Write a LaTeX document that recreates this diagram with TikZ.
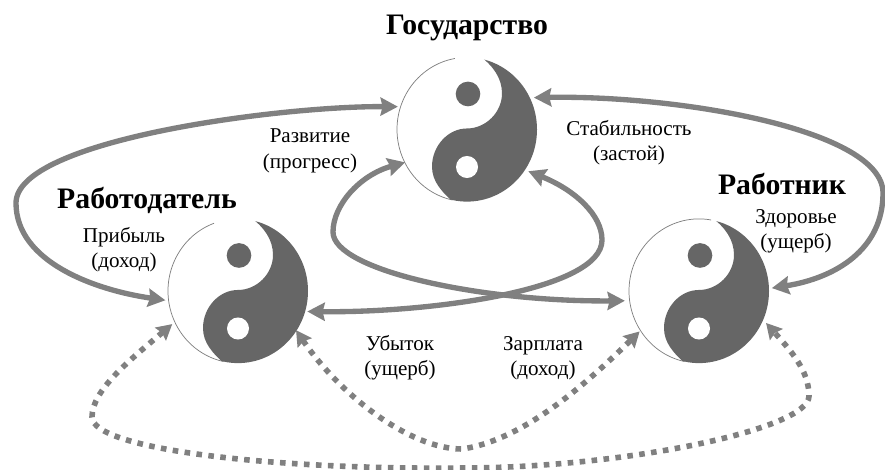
\documentclass[tikz,border=0pt]{standalone}
\usepackage{fontspec}
\setmainfont{Liberation Serif}
\usetikzlibrary{arrows.meta}
\definecolor{yydark}{HTML}{666666}
\definecolor{linkgray}{HTML}{808080}
\tikzset{
  x=.75pt,y=-.75pt,
  yynode/.style={circle,minimum size=105pt,inner sep=0pt,outer sep=0pt,fill=white},
  solidlink/.style={draw=linkgray,line width=4pt,{Stealth[length=13pt,width=13.5pt,inset=1.5pt]}-{Stealth[length=13pt,width=13.5pt,inset=1.5pt]}},
  dashlink/.style={draw=linkgray,line width=4.2pt,dash pattern=on 4.2pt off 4.8pt,{Stealth[length=11.5pt,width=12.5pt,inset=1.5pt]}-{Stealth[length=11.5pt,width=12.5pt,inset=1.5pt]}},
  title/.style={font=\fontsize{22.3}{26}\selectfont\bfseries,inner sep=0pt},
  caption/.style={font=\fontsize{15.8}{19}\selectfont,align=center,inner sep=0pt},
}
\newcommand{\yinyang}[3]{%
  \begin{scope}[shift={(#1)},x=.75pt,y=.7725pt]
    \draw[linkgray,line width=.55pt] (#2:70) arc[start angle=#2,end angle=#3,radius=70];
    \begin{scope}
      \clip (0,0) circle (70);
      \fill[yydark] (0,1) .. controls (19,1) and (35,17) .. (35,35)
        .. controls (35,50) and (26,62) .. (12,72) -- (80,80) -- (80,-80) -- (-12,-72)
        .. controls (-26,-60) and (-35,-50) .. (-35,-36)
        .. controls (-35,-16) and (-19,1) .. (0,1) -- cycle;
    \end{scope}
    \fill[yydark] (1,34.5) ellipse (12.3 and 12);
    \fill[white] (0,-36.4) ellipse (11 and 10.7);
  \end{scope}}
\begin{document}
\begin{tikzpicture}
\useasboundingbox (0,0) rectangle (885,470);
\node[yynode] (state) at (467,129.5) {};
\node[yynode] (employer) at (238,291) {};
\node[yynode] (worker) at (699,291) {};
\yinyang{state}{100}{258}
\yinyang{employer}{110}{258}
\yinyang{worker}{80}{258}

\node[title] (tstate) at (467,28) {Государство};
\node[title] (temployer) at (147,200) {Работодатель};
\node[title] (tworker) at (782,184) {Работник};
\node[caption] (c1) at (310,151) {Развитие\\(прогресс)};
\node[caption] (c2) at (124,250) {Прибыль\\(доход)};
\node[caption] (c3) at (629,143) {Стабильность\\(застой)};
\node[caption] (c4) at (796,231) {Здоровье\\(ущерб)};
\node[caption] (c5) at (400,358) {Убыток\\(ущерб)};
\node[caption] (c6) at (543,358) {Зарплата\\(доход)};

\draw[solidlink,shorten <=2.5pt,shorten >=2.2pt] (employer.188.6) .. controls (95,290) and (16,262) .. (16,203)
  .. controls (16,140) and (280,106) .. (state.161);
\draw[solidlink,shorten <=2.2pt,shorten >=3.4pt] (worker.2.4) .. controls (835,278) and (883,250) .. (883,193)
  .. controls (883,130) and (680,95) .. (state.27.6);
\draw[solidlink,shorten >=3.6pt] (state.208.4) .. controls (360,175) and (333,205) .. (333,232)
  .. controls (333,270) and (480,302) .. (worker.188.5);
\draw[solidlink,shorten <=3.2pt,shorten >=1.8pt] (state.-35) .. controls (575,190) and (602,215) .. (602,240)
  .. controls (602,290) and (430,313) .. (employer.-17.7);
\draw[dashlink,shorten >=1.4pt] (employer.-34.6) .. controls (340,395) and (410,449) .. (462,449)
  .. controls (525,440) and (590,380) .. (worker.214.8);
\draw[dashlink,shorten <=2.8pt,shorten >=3.5pt] (employer.206.6) .. controls (130,360) and (92,390) .. (92,417)
  .. controls (92,450) and (280,470) .. (462,468)
  .. controls (620,468) and (809,430) .. (809,396)
  .. controls (809,370) and (790,350) .. (worker.-24.5);
\end{tikzpicture}
\end{document}
